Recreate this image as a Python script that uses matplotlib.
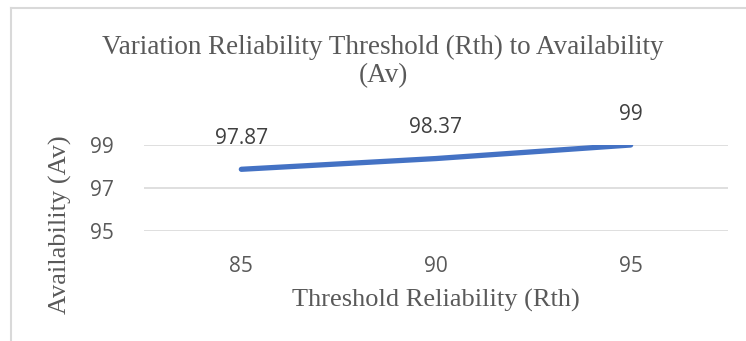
import matplotlib
matplotlib.use('Agg')
import matplotlib.pyplot as plt
from matplotlib.lines import Line2D

# Data
thresholds = ['85', '90', '95']
availability = [97.87, 98.37, 99]
y_ticks = [95, 97, 99]

W, H = 746, 341
fig = plt.figure(figsize=(W / 100, H / 100), dpi=100)

# Plot area (pixel coords converted to figure fractions)
left, right, top, bottom = 144, 728, 145, 231
ax = fig.add_axes([left / W, 1 - bottom / H, (right - left) / W, (bottom - top) / H])

xs = range(len(thresholds))
ax.plot(xs, availability, color='#4472C4', lw=3.8, solid_capstyle='round')
for x, v in zip(xs, availability):
    ax.annotate(f'{v:g}', (x, v), xytext=(0, 22), textcoords='offset points',
                ha='center', va='center', fontsize=15, color='#404040',
                family='Open Sans')

ax.set_xlim(-0.5, len(thresholds) - 0.5)
ax.set_ylim(95, 99)
ax.set_yticks(y_ticks)
ax.set_xticks(list(xs))
ax.set_xticklabels(thresholds)
ax.yaxis.grid(True, color='#d9d9d9', lw=1.2)
ax.set_axisbelow(True)
for s in ax.spines.values():
    s.set_visible(False)
ax.tick_params(length=0, labelsize=15, labelcolor='#595959')
for lbl in ax.get_xticklabels() + ax.get_yticklabels():
    lbl.set_family('Open Sans')
ax.tick_params(axis='x', pad=18)
ax.tick_params(axis='y', pad=22)

serif = 'Liberation Serif'
fig.text(383 / W, 1 - 47 / H, 'Variation Reliability Threshold (Rth) to Availability',
         ha='center', va='center', fontsize=19.5, color='#595959', family=serif)
fig.text(383 / W, 1 - 76 / H, '(Av)', ha='center', va='center',
         fontsize=19.5, color='#595959', family=serif)
fig.text(436 / W, 1 - 300 / H, 'Threshold Reliability (Rth)', ha='center', va='center',
         fontsize=19, color='#595959', family=serif)
fig.text(60 / W, 1 - 225 / H, 'Availability (Av)', ha='center', va='center',
         rotation=90, fontsize=19, color='#595959', family=serif)

# chart border (left and top visible)
fig.add_artist(Line2D([11 / W, 11 / W], [0, 1 - 8 / H], color='#d9d9d9', lw=1.5,
                      transform=fig.transFigure))
fig.add_artist(Line2D([11 / W, 1], [1 - 8 / H, 1 - 8 / H], color='#d9d9d9', lw=1.5,
                      transform=fig.transFigure))

fig.savefig('out.png', dpi=100, facecolor='white')
